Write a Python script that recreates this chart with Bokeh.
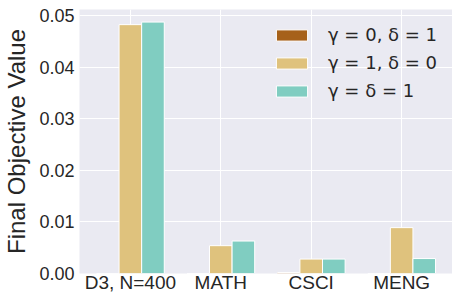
from bokeh.plotting import figure
from bokeh.models import ColumnDataSource, FixedTicker, Range1d, Legend, LegendItem, PrintfTickFormatter
from bokeh.transform import dodge
from bokeh.embed import file_html
from bokeh.resources import INLINE

categories = ["D3, N=400", "MATH", "CSCI", "MENG"]
series_labels = ["γ = 0, δ = 1", "γ = 1, δ = 0", "γ = δ = 1"]
g0_d1 = [0.0, 0.0, 0.0002, 0.0]
g1_d0 = [0.0483, 0.0054, 0.0028, 0.0089]
g1_d1 = [0.0488, 0.0063, 0.0028, 0.0029]
colors = ["#a6611a", "#dfc27d", "#80cdc1"]
y_ticks = [0.0, 0.01, 0.02, 0.03, 0.04, 0.05]

src = ColumnDataSource(dict(x=list(range(len(categories))), a=g0_d1, b=g1_d0, c=g1_d1))

p = figure(width=452, height=295, output_backend="svg", toolbar_location=None,
           x_range=Range1d(-0.5625, 3.5625), y_range=Range1d(0, 0.05124),
           min_border_left=75, min_border_right=0, min_border_top=9, min_border_bottom=20)
p.background_fill_color = "#eaeaf2"
p.border_fill_color = "white"
p.outline_line_color = None

rs = []
for off, col, c in zip([-0.25, 0.0, 0.25], ["a", "b", "c"], colors):
    r = p.vbar(x=dodge("x", off), top=col, width=0.25, bottom=0, source=src,
               fill_color=c, line_color="white", line_width=1)
    rs.append(r)

p.xaxis.ticker = FixedTicker(ticks=list(range(len(categories))))
p.xaxis.major_label_overrides = {i: c for i, c in enumerate(categories)}
p.yaxis.ticker = FixedTicker(ticks=y_ticks)
p.yaxis.formatter = PrintfTickFormatter(format="%.2f")
p.xgrid.ticker = FixedTicker(ticks=list(range(len(categories))))
p.ygrid.ticker = FixedTicker(ticks=y_ticks)
p.grid.grid_line_color = "white"
p.grid.grid_line_width = 1

for ax in (p.xaxis, p.yaxis):
    ax.axis_line_color = None
    ax.major_tick_line_color = None
    ax.minor_tick_line_color = None
    ax.major_tick_out = 0
    ax.major_tick_in = 0
    ax.major_label_text_font = "Liberation Sans"
    ax.major_label_text_color = "#262626"

p.xaxis.major_label_text_font_size = "19px"
p.xaxis.major_label_standoff = -2
p.yaxis.major_label_text_font_size = "18px"
p.yaxis.major_label_standoff = 5
p.yaxis.axis_label = "Final Objective Value"
p.yaxis.axis_label_text_font = "Liberation Sans"
p.yaxis.axis_label_text_font_size = "24px"
p.yaxis.axis_label_text_font_style = "normal"
p.yaxis.axis_label_text_color = "#262626"
p.yaxis.axis_label_standoff = 6

legend = Legend(items=[LegendItem(label=l, renderers=[r]) for l, r in zip(series_labels, rs)],
                location=(193, 172))
legend.background_fill_alpha = 0
legend.border_line_color = None
legend.label_text_font = "DejaVu Sans"
legend.label_text_font_size = "18px"
legend.label_text_color = "#262626"
legend.glyph_width = 39
legend.glyph_height = 14
legend.label_standoff = 17
legend.spacing = 7
legend.padding = 12
legend.margin = 0
p.add_layout(legend)

open("out.html", "w").write(file_html(p, INLINE))
